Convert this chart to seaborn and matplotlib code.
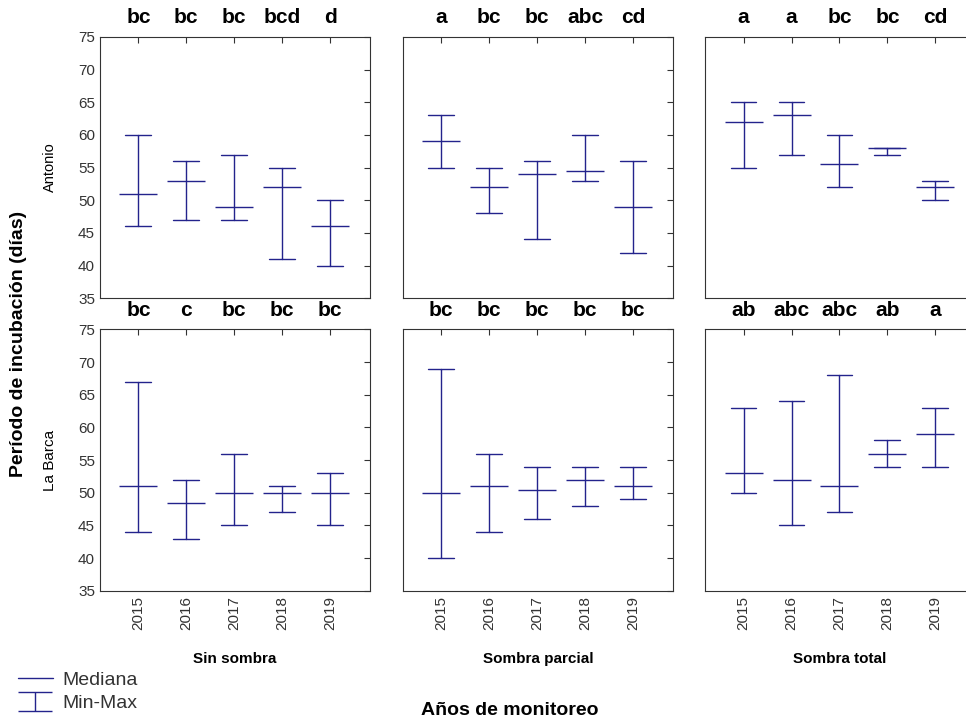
import numpy as np
import pandas as pd
import matplotlib
matplotlib.use("Agg")
import matplotlib.pyplot as plt
from matplotlib.lines import Line2D
import seaborn as sns

years = ["2015", "2016", "2017", "2018", "2019"]
sites = ["Antonio", "La Barca"]
shades = ["Sin sombra", "Sombra parcial", "Sombra total"]

# Antonio
ant_sin_min = [46, 47, 47, 41, 40]
ant_sin_med = [51, 53, 49, 52, 46]
ant_sin_max = [60, 56, 57, 55, 50]
ant_par_min = [55, 48, 44, 53, 42]
ant_par_med = [59, 52, 54, 54.5, 49]
ant_par_max = [63, 55, 56, 60, 56]
ant_tot_min = [55, 57, 52, 57, 50]
ant_tot_med = [62, 63, 55.5, 58, 52]
ant_tot_max = [65, 65, 60, 58, 53]
# La Barca
lb_sin_min = [44, 43, 45, 47, 45]
lb_sin_med = [51, 48.5, 50, 50, 50]
lb_sin_max = [67, 52, 56, 51, 53]
lb_par_min = [40, 44, 46, 48, 49]
lb_par_med = [50, 51, 50.5, 52, 51]
lb_par_max = [69, 56, 54, 54, 54]
lb_tot_min = [50, 45, 47, 54, 54]
lb_tot_med = [53, 52, 51, 56, 59]
lb_tot_max = [63, 64, 68, 58, 63]

ant_sin_let = ["bc", "bc", "bc", "bcd", "d"]
ant_par_let = ["a", "bc", "bc", "abc", "cd"]
ant_tot_let = ["a", "a", "bc", "bc", "cd"]
lb_sin_let = ["bc", "c", "bc", "bc", "bc"]
lb_par_let = ["bc", "bc", "bc", "bc", "bc"]
lb_tot_let = ["ab", "abc", "abc", "ab", "a"]

panels = {
    ("Antonio", "Sin sombra"): (ant_sin_min, ant_sin_med, ant_sin_max, ant_sin_let),
    ("Antonio", "Sombra parcial"): (ant_par_min, ant_par_med, ant_par_max, ant_par_let),
    ("Antonio", "Sombra total"): (ant_tot_min, ant_tot_med, ant_tot_max, ant_tot_let),
    ("La Barca", "Sin sombra"): (lb_sin_min, lb_sin_med, lb_sin_max, lb_sin_let),
    ("La Barca", "Sombra parcial"): (lb_par_min, lb_par_med, lb_par_max, lb_par_let),
    ("La Barca", "Sombra total"): (lb_tot_min, lb_tot_med, lb_tot_max, lb_tot_let),
}

rows = []
for (site, shade), (mn, md, mx, _) in panels.items():
    for i, y in enumerate(years):
        for v in (mn[i], md[i], mx[i]):
            rows.append({"site": site, "shade": shade, "year": y, "value": v})
df = pd.DataFrame(rows)

sns.set_style("white")
plt.rcParams["font.family"] = ["Liberation Sans", "DejaVu Sans"]
plt.rcParams["text.color"] = "black"

navy = "#23238c"
fig = plt.figure(figsize=(9.66, 7.24), dpi=100)

lefts = [0.1035, 0.417, 0.730]
width = 0.2795
bottoms = [0.588, 0.184]
height = 0.361

for r, site in enumerate(sites):
    for c, shade in enumerate(shades):
        ax = fig.add_axes([lefts[c], bottoms[r], width, height])
        sub = df[(df.site == site) & (df.shade == shade)]
        sns.pointplot(data=sub, x="year", y="value", order=years,
                      estimator="median", errorbar=lambda v: (v.min(), v.max()),
                      capsize=0.54, linestyle="none", marker="_",
                      markersize=28, markeredgewidth=1, linewidth=1,
                      color=navy, err_kws={"linewidth": 1}, ax=ax)
        ax.set_xlim(-0.8, 4.83)
        ax.set_ylim(35, 75)
        ax.set_yticks(range(35, 80, 5))
        ax.set_ylabel("")
        ax.set_xlabel("")
        for s in ax.spines.values():
            s.set_color("#333333")
            s.set_linewidth(0.8)
        ax.tick_params(direction="in", top=True, right=True, length=4,
                       width=0.8, color="#333333", labelsize=11,
                       labelcolor="#333333")
        if c > 0:
            ax.tick_params(labelleft=False)
        if r == 0:
            ax.tick_params(labelbottom=False)
        else:
            ax.tick_params(axis="x", labelrotation=90)
            ax.set_xlabel(shade, fontsize=11, fontweight="bold", labelpad=16,
                          color="black")
        letters = panels[(site, shade)][3]
        for i, t in enumerate(letters):
            ax.annotate(t, xy=(i, 1), xycoords=("data", "axes fraction"),
                        xytext=(0, 7), textcoords="offset points",
                        ha="center", va="bottom", fontsize=15,
                        fontweight="bold", color="black")
        if r == 1 and c == 0:
            leg_ax = ax

fig.text(0.052, 0.7685, "Antonio", rotation=90, ha="center", va="center",
         fontsize=10.5)
fig.text(0.052, 0.3645, "La Barca", rotation=90, ha="center", va="center",
         fontsize=11)
fig.text(0.019, 0.525, "Período de incubación (días)", rotation=90,
         ha="center", va="center", fontsize=14, fontweight="bold")
fig.text(0.528, 0.019, "Años de monitoreo", ha="center", va="center",
         fontsize=14, fontweight="bold")

# legend
med_handle = Line2D([], [], color=navy, linewidth=1)
eb = leg_ax.errorbar([np.nan], [np.nan], yerr=[1], color=navy, capsize=12,
                     elinewidth=1, capthick=1, linestyle="none")
fig.legend([med_handle, eb], ["Mediana", "Min-Max"], loc="lower left",
           bbox_to_anchor=(0.0, -0.008), frameon=False, fontsize=14,
           handlelength=1.8, handletextpad=0.5, labelspacing=0.3,
           labelcolor="#333333")

fig.savefig("out.png", dpi=100)
